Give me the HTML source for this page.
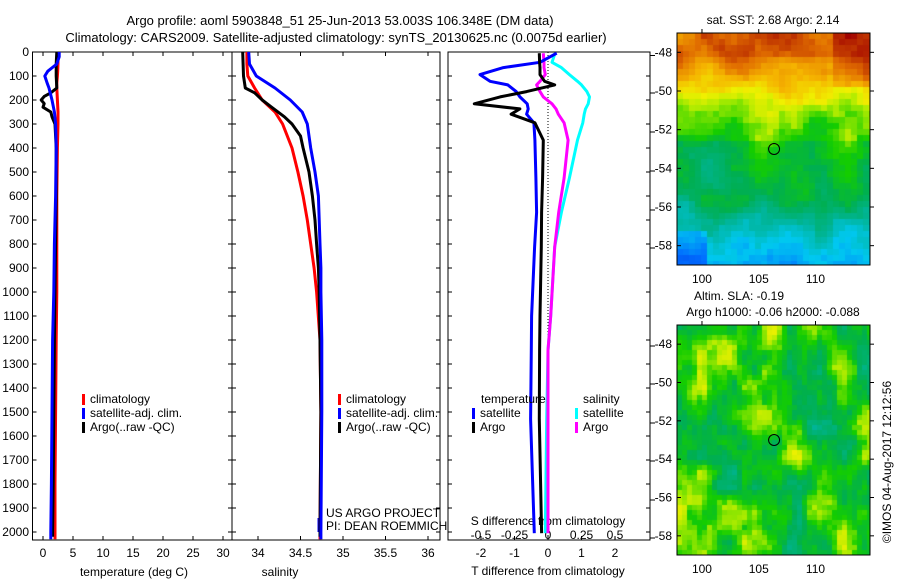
<!DOCTYPE html>
<html><head><meta charset="utf-8">
<style>
body{margin:0;background:#fff;}
#wrap{position:relative;width:900px;height:580px;overflow:hidden;background:#fff;font-family:"Liberation Sans",sans-serif;}
svg text{font-family:"Liberation Sans",sans-serif;font-size:12px;fill:#000;}
canvas{position:absolute;}
</style></head><body>
<div id="wrap">
<canvas id="sst" width="193" height="232" style="left:677px;top:33px;"></canvas>
<canvas id="sla" width="193" height="230" style="left:677px;top:325px;"></canvas>
<svg id="fig" width="900" height="580" style="position:absolute;left:0;top:0">
<text x="340" y="25" text-anchor="middle" style="font-size:13px">Argo profile: aoml 5903848_51 25-Jun-2013 53.003S 106.348E (DM data)</text>
<text x="336" y="42" text-anchor="middle" style="font-size:13px">Climatology: CARS2009. Satellite-adjusted climatology: synTS_20130625.nc (0.0075d earlier)</text>
<g id="g"></g>
</svg>
</div>
<script>
// ---- data ----
const tDepth = [0,20,50,80,100,130,150,200,250,300,400,600,800,1000,1200,1500,1800,2000,2030];
const tClim  = [2.5,2.5,2.5,2.45,2.4,2.3,2.3,2.4,2.5,2.5,2.4,2.3,2.3,2.3,2.2,2.1,2.0,2.0,2.0];
const tSat   = [2.7,2.7,2.3,0.8,0.3,0.7,1.0,1.5,1.9,2.1,2.2,2.1,1.9,1.8,1.6,1.5,1.4,1.3,1.3];
const argoDepth = [0,50,100,150,170,185,200,215,230,250,270,300,400,600,800,1000,1200,1500,1800,2000,2020];
const tArgo  = [2.3,2.2,2.2,2.3,1.3,0.2,-0.3,0.2,0.0,1.3,1.5,2.0,2.2,2.2,2.1,2.0,1.9,1.8,1.7,1.6,1.6];
const sDepth = [0,50,100,150,200,250,300,400,500,600,700,800,900,1000,1200,1500,2000,2030];
const sClim  = [33.87,33.87,33.88,33.96,34.05,34.2,34.29,34.4,34.47,34.53,34.58,34.62,34.66,34.69,34.73,34.74,34.73,34.73];
const sSat   = [33.89,33.9,33.98,34.2,34.38,34.52,34.58,34.62,34.67,34.71,34.72,34.73,34.74,34.74,34.75,34.75,34.74,34.74];
const sArgoDepth = [0,100,150,170,200,230,270,300,350,400,500,600,700,800,900,1000,1200,1500,2000,2020];
const sArgo  = [33.82,33.83,33.85,33.96,34.05,34.16,34.31,34.4,34.5,34.53,34.6,34.64,34.67,34.69,34.71,34.72,34.73,34.74,34.73,34.73];
const dDepth = [5,43,65,94,122,137,165,187,216,237,259,295,367,525,668,812,1100,1243,1530,2005];
const dTsat  = [0.26,-0.24,-1.33,-2.03,-1.73,-1.2,-0.95,-0.84,-0.62,-0.59,-0.64,-0.42,-0.39,-0.36,-0.34,-0.4,-0.49,-0.5,-0.52,-0.41];
const dTargo = [-0.26,-0.25,-0.24,-0.24,-0.1,0.2,-0.64,-1.43,-2.2,-0.84,-1.1,-0.39,-0.14,-0.16,-0.19,-0.2,-0.24,-0.25,-0.26,-0.19];
const dSsat  = [0.052,0.03,0.1,0.16,0.22,0.25,0.29,0.31,0.3,0.28,0.27,0.26,0.22,0.16,0.1,0.05,0.02,0.0,-0.01,-0.02];
const dSargo = [-0.035,-0.03,-0.03,-0.02,-0.06,-0.085,-0.06,-0.035,0.03,0.06,0.077,0.12,0.15,0.12,0.08,0.05,0.02,0.0,0.0,0.0];
const depthTicks = [0,100,200,300,400,500,600,700,800,900,1000,1100,1200,1300,1400,1500,1600,1700,1800,1900,2000];
const tTicks = [0,5,10,15,20,25,30];
const sTicks = [34,34.5,35,35.5,36];
const dTTicks = [-2,-1,0,1,2];
const dSTicks = [-0.5,-0.25,0,0.25,0.5];
const latTicks = [-48,-50,-52,-54,-56,-58];
const lonTicks = [100,105,110];

// ---- axes ----
const NS='http://www.w3.org/2000/svg';
const g=document.getElementById('g');
function el(tag,attrs,txt){const e=document.createElementNS(NS,tag);for(const k in attrs)e.setAttribute(k,attrs[k]);if(txt!==undefined)e.textContent=txt;g.appendChild(e);return e;}
const yD = d => 52 + d*0.24;
const xT = t => 43 + t*6;
const xS = s => 258 + (s-34)*85;
const xDT = t => 548 + t*33.5;
const xDS = s => 548 + s*134;
const TOP=52, BOT=540;

function frame(x0,x1,name){
  const r=el('rect',{x:x0,y:TOP,width:x1-x0,height:BOT-TOP,fill:'none',stroke:'#000','stroke-width':1});
  
  
}
frame(32.5,232,'temperature-panel-frame');
frame(232,440,'salinity-panel-frame');
frame(448,650,'difference-panel-frame');

depthTicks.forEach(d=>{
  const t=el('text',{x:29,y:yD(d)+4,'text-anchor':'end'},String(d));
  
  
  [[32.5,1],[232,-1],[232,1],[440,-1],[448,1],[650,-1]].forEach(([x,s])=>{
    const l=el('line',{x1:x,x2:x+4*s,y1:yD(d),y2:yD(d),stroke:'#000'});
    
    
  });
});
function xticks(arr,fx,y,name,topTicks){
  arr.forEach(v=>{
    const t=el('text',{x:fx(v),y:y,'text-anchor':'middle'},String(v));
    
    
    const l=el('line',{x1:fx(v),x2:fx(v),y1:BOT,y2:BOT-4,stroke:'#000'});
    
    
    if(topTicks){const l2=el('line',{x1:fx(v),x2:fx(v),y1:TOP,y2:TOP+4,stroke:'#000'});
    
    }
  });
}
xticks(tTicks,xT,557,'temperature-tick-label',true);
xticks(sTicks,xS,557,'salinity-tick-label',true);
xticks(dTTicks,xDT,557,'t-diff-tick-label',false);
dSTicks.forEach(v=>{
  const t=el('text',{x:xDS(v),y:539,'text-anchor':'middle'},String(v));
  
  
});
[55.5,93,132,171,210,248,346,384,423,461,500,538].forEach(y=>{
  const l=el('line',{x1:650,x2:655,y1:y,y2:y,stroke:'#000'});
  
  
});
function lab(x,y,s,name,anchor){const t=el('text',{x:x,y:y,'text-anchor':anchor||'middle'},s);return t;}
lab(134,576,'temperature (deg C)','temperature-axis-title');
lab(280,576,'salinity','salinity-axis-title');
lab(548,575,'T difference from climatology','t-diff-axis-title');
lab(548,525,'S difference from climatology','s-diff-axis-title');
lab(326,517,'US ARGO PROJECT','project-credit','start');
lab(326,530,'PI: DEAN ROEMMICH','pi-credit','start');
const pl=el('line',{x1:318.5,x2:318.5,y1:518,y2:532,stroke:'#00f','stroke-width':2});


const zl=el('line',{x1:548,x2:548,y1:TOP,y2:BOT,stroke:'#000','stroke-dasharray':'1,2'});



function prof(depths,vals,fx,color,w,name){
  const pts=depths.map((d,i)=>fx(vals[i]).toFixed(1)+','+yD(d).toFixed(1)).join(' ');
  const p=el('polyline',{points:pts,fill:'none',stroke:color,'stroke-width':w,'stroke-linejoin':'round'});
  
  
}
prof(tDepth,tClim,xT,'#f00',3,'temp-climatology-line');
prof(argoDepth,tArgo,xT,'#000',3,'temp-argo-line');
prof(tDepth,tSat,xT,'#00f',3,'temp-satellite-line');
prof(sDepth,sClim,xS,'#f00',3,'sal-climatology-line');
prof(sArgoDepth,sArgo,xS,'#000',3,'sal-argo-line');
prof(sDepth,sSat,xS,'#00f',3,'sal-satellite-line');
prof(dDepth,dSsat,xDS,'#0ff',3,'sdiff-satellite-line');
prof(dDepth,dSargo,xDS,'#f0f',3,'sdiff-argo-line');
prof(dDepth,dTsat,xDT,'#00f',3,'tdiff-satellite-line');
prof(dDepth,dTargo,xDT,'#000',3,'tdiff-argo-line');

function legend(x,y,color,txt,name){
  const r=el('rect',{x:x,y:y-9,width:3,height:11,fill:color});
  
  
  lab(x+8,y,txt,name,'start');
}
legend(82,403,'#f00','climatology','legend-climatology');
legend(82,417,'#00f','satellite-adj. clim.','legend-satellite');
legend(82,431,'#000','Argo(..raw -QC)','legend-argo');
legend(338,403,'#f00','climatology','legend2-climatology');
legend(338,417,'#00f','satellite-adj. clim.','legend2-satellite');
legend(338,431,'#000','Argo(..raw -QC)','legend2-argo');
lab(481,403,'temperature','legend-temperature-heading','start');
legend(472,417,'#00f','satellite','legend-t-satellite');
legend(472,431,'#000','Argo','legend-t-argo');
lab(583,403,'salinity','legend-salinity-heading','start');
legend(575,417,'#0ff','satellite','legend-s-satellite');
legend(575,431,'#f0f','Argo','legend-s-argo');

// ---- maps ----
function mapAxes(top,bot,name){
  const r=el('rect',{x:677,y:top,width:193,height:bot-top,fill:'none',stroke:'#000'});
  
  
  const latY=l=>top+(-47.0-l)/(12)*(bot-top);
  latTicks.forEach(l=>{
    lab(672,latY(l)+4,String(l),name+'-lat-label','end');
    const t=el('line',{x1:677,x2:681,y1:latY(l),y2:latY(l),stroke:'#000'});
    
    const t2=el('line',{x1:870,x2:874,y1:latY(l),y2:latY(l),stroke:'#000'});
    
  });
  const lonX=l=>677+(l-97.8)/17*193;
  lonTicks.forEach(l=>{
    lab(lonX(l),bot+18,String(l),name+'-lon-label');
    const t=el('line',{x1:lonX(l),x2:lonX(l),y1:top,y2:top-4,stroke:'#000'});
    
  });
  const c=el('circle',{cx:lonX(106.35),cy:latY(-53.0),r:5.5,fill:'none',stroke:'#000'});
  
  
}
mapAxes(33,265,'sst-map');
mapAxes(325,555,'sla-map');
lab(773,24,'sat. SST: 2.68 Argo: 2.14','sst-map-title');
lab(739,300,'Altim. SLA: -0.19','sla-map-title');
lab(773,316,'Argo h1000: -0.06 h2000: -0.088','argo-height-title');
const ts=lab(0,0,'©IMOS 04-Aug-2017 12:12:56','timestamp');
ts.setAttribute('transform','translate(891,462) rotate(-90)');

const stops=[[0,[0,40,220]],[0.15,[0,110,255]],[0.28,[0,200,240]],[0.38,[0,180,150]],[0.47,[0,175,80]],[0.55,[20,205,0]],[0.62,[170,235,0]],[0.68,[240,240,0]],[0.77,[245,180,0]],[0.87,[225,110,0]],[1,[160,0,0]]];
function cmap(v){v=Math.max(0,Math.min(1,v));for(let i=1;i<stops.length;i++){if(v<=stops[i][0]){const a=stops[i-1],b=stops[i],f=(v-a[0])/(b[0]-a[0]);return a[1].map((c,k)=>Math.round(c+(b[1][k]-c)*f));}}return stops[stops.length-1][1];}
function hash(i,j,s){let h=(i*374761393+j*668265263+s*982451653)|0;h=(h^(h>>>13))*1274126177|0;h=h^(h>>>16);return ((h>>>0)%10000)/10000;}
function vnoise(x,y,s){const i=Math.floor(x),j=Math.floor(y),fx=x-i,fy=y-j;const u=fx*fx*(3-2*fx),v=fy*fy*(3-2*fy);
  const a=hash(i,j,s),b=hash(i+1,j,s),c=hash(i,j+1,s),d=hash(i+1,j+1,s);
  return (a*(1-u)+b*u)*(1-v)+(c*(1-u)+d*u)*v-0.5;}
function fbm(x,y,s){return vnoise(x/28,y/28,s)+0.5*vnoise(x/13,y/13,s+7)+0.25*vnoise(x/6,y/6,s+13);}
function draw(id,fn,bs){
  const cv=document.getElementById(id),cx=cv.getContext('2d');
  for(let y=0;y<cv.height;y+=bs)for(let x=0;x<cv.width;x+=bs){const c=cmap(fn(x,y));cx.fillStyle='rgb('+c.join(',')+')';cx.fillRect(x,y,bs,bs);}
}
draw('sst',(x,y)=>{
  const f=y/232;let base;
  if(f<0.08)base=0.88;else if(f<0.3)base=0.86-(f-0.08)*1.0;else if(f<0.45)base=0.64-(f-0.3)*0.6;else if(f<0.7)base=0.52-(f-0.45)*0.3;else base=0.44-(f-0.7)*0.7;
  if(x>150&&f<0.22)base+=0.08;
  if(x<30&&f>0.85)base-=0.12;
  return base+0.12*fbm(x,y,3);
},6);
draw('sla',(x,y)=>0.53+0.22*fbm(x*1.2,y*0.9,11),5);
</script>
</body></html>
